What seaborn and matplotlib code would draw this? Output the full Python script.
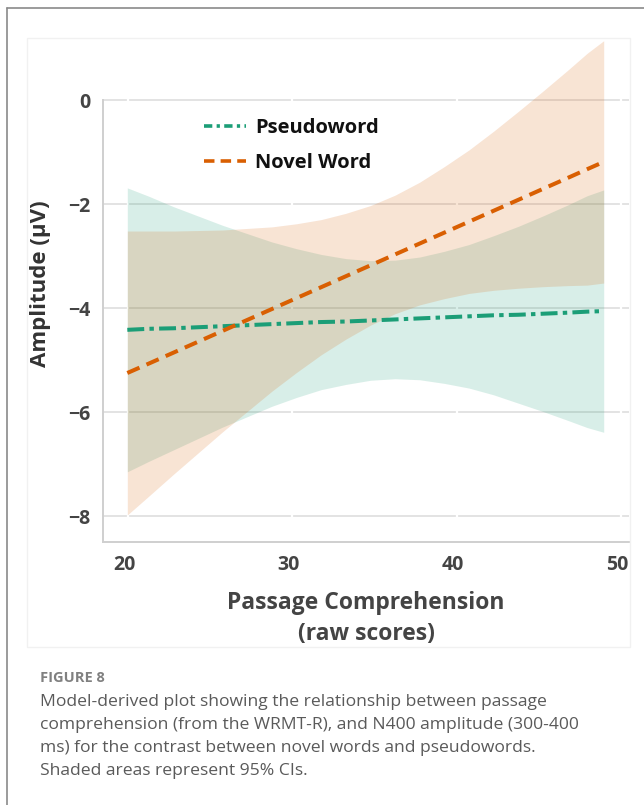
import matplotlib
matplotlib.use("Agg")
import matplotlib.pyplot as plt
import seaborn as sns
import pandas as pd
from matplotlib.lines import Line2D
from matplotlib.patches import Rectangle

# Model-derived estimates of N400 amplitude (µV) across passage comprehension scores
score = [20.2, 21.5, 23, 24.5, 26, 27.5, 29, 30.5, 32, 33.5, 35,
         36.5, 38, 39.5, 41, 42.5, 44, 45.5, 47, 48.2, 49.2]

pseudo_fit = [-4.42, -4.40, -4.39, -4.37, -4.35, -4.33, -4.31, -4.29, -4.27, -4.26, -4.24,
              -4.22, -4.20, -4.18, -4.16, -4.14, -4.13, -4.11, -4.09, -4.07, -4.06]
pseudo_lo = [-7.15, -6.95, -6.73, -6.51, -6.29, -6.09, -5.89, -5.72, -5.57, -5.47, -5.39,
             -5.36, -5.38, -5.45, -5.54, -5.67, -5.83, -5.99, -6.16, -6.30, -6.39]
pseudo_hi = [-1.69, -1.85, -2.05, -2.23, -2.41, -2.57, -2.73, -2.86, -2.97, -3.05, -3.09,
             -3.08, -3.02, -2.91, -2.78, -2.61, -2.43, -2.23, -2.02, -1.84, -1.73]

novel_fit = [-5.25, -5.07, -4.86, -4.65, -4.44, -4.23, -4.02, -3.81, -3.60, -3.39, -3.18,
             -2.97, -2.76, -2.55, -2.34, -2.13, -1.92, -1.71, -1.50, -1.33, -1.19]
novel_lo = [-7.98, -7.62, -7.20, -6.79, -6.38, -5.99, -5.60, -5.24, -4.90, -4.60, -4.33,
            -4.11, -3.94, -3.82, -3.72, -3.66, -3.62, -3.59, -3.57, -3.56, -3.52]
novel_hi = [-2.52, -2.52, -2.52, -2.51, -2.50, -2.47, -2.44, -2.38, -2.30, -2.18, -2.03,
            -1.83, -1.58, -1.28, -0.96, -0.60, -0.22, 0.17, 0.57, 0.90, 1.14]

conditions = ["Pseudoword", "Novel Word"]
palette = {"Pseudoword": "#1b9e77", "Novel Word": "#d95f02"}
line_dashes = {"Pseudoword": (4.2, 1.3, 1.1, 1.3), "Novel Word": (3.3, 1.9)}
legend_dashes = {"Pseudoword": (2.3, 1.2, 0.9, 1.2), "Novel Word": (2.9, 1.7)}

x_ticks = [20, 30, 40, 50]
y_ticks = [0, -2, -4, -6, -8]

x_label = "Passage Comprehension\n(raw scores)"
y_label = "Amplitude (μV)"
fig_tag = "FIGURE 8"
caption_lines = [
    "Model-derived plot showing the relationship between passage",
    "comprehension (from the WRMT-R), and N400 amplitude (300-400",
    "ms) for the contrast between novel words and pseudowords.",
    "Shaded areas represent 95% CIs.",
]

df = pd.concat([
    pd.DataFrame({"score": score, "fit": pseudo_fit, "lo": pseudo_lo, "hi": pseudo_hi,
                  "condition": "Pseudoword"}),
    pd.DataFrame({"score": score, "fit": novel_fit, "lo": novel_lo, "hi": novel_hi,
                  "condition": "Novel Word"}),
], ignore_index=True)

sns.set_theme(style="white")
plt.rcParams["font.family"] = ["Open Sans", "DejaVu Sans"]

W, H = 644, 805
fig = plt.figure(figsize=(W / 100, H / 100), dpi=100)
fig.patch.set_facecolor("white")

# outer frame and inner panel
fig.add_artist(Line2D([7 / W, 7 / W], [0, 1 - 8 / H], transform=fig.transFigure,
                      color="#8a8a8a", lw=1.2))
fig.add_artist(Line2D([7 / W, 1], [1 - 8 / H, 1 - 8 / H], transform=fig.transFigure,
                      color="#8a8a8a", lw=1.2))
fig.add_artist(Rectangle((27 / W, 1 - 647 / H), (630 - 27) / W, (647 - 38) / H,
                         transform=fig.transFigure, fill=False,
                         edgecolor="#f1f1f1", lw=1.0))

ax = fig.add_axes([103 / W, 1 - 542 / H, (629 - 103) / W, (542 - 37.6) / H])
ax.set_facecolor("none")
ax.set_xlim(18.72, 50.74)
ax.set_ylim(-8.5, 1.2)

for y in y_ticks:
    ax.axhline(y, color="#e3e3e3", lw=1.4, zorder=0.5)
for x in x_ticks:
    ax.axvline(x + 0.25, color="white", lw=1.6, zorder=0.6)

for cond in conditions:
    sub = df[df["condition"] == cond]
    ax.fill_between(sub["score"], sub["lo"], sub["hi"], color=palette[cond],
                    alpha=0.17, lw=0, zorder=1)

sns.lineplot(data=df, x="score", y="fit", hue="condition", style="condition",
             hue_order=conditions, style_order=conditions, palette=palette,
             dashes=line_dashes, linewidth=2.9, legend=False, ax=ax, zorder=3)

handles = [Line2D([], [], color=palette[c], lw=2.6, dashes=legend_dashes[c])
           for c in conditions]
leg = ax.legend(handles, conditions, loc="upper left",
                bbox_to_anchor=((204 - 103) / 526, 1 - (118 - 37.6) / 504.4),
                frameon=False, borderpad=0, borderaxespad=0, handlelength=2.1,
                handletextpad=0.45, labelspacing=0.75,
                prop={"size": 14.5, "weight": "bold"})
for t in leg.get_texts():
    t.set_color("#111111")

sns.despine(ax=ax)
for side in ["left", "bottom"]:
    ax.spines[side].set_color("#cfcfcf")
    ax.spines[side].set_linewidth(1.4)
ax.spines["left"].set_bounds(-8.5, 0)

ax.set_xticks(x_ticks)
ax.set_yticks(y_ticks)
ax.tick_params(axis="both", length=0, labelsize=14, labelcolor="#444444")
ax.tick_params(axis="x", pad=9)
ax.tick_params(axis="y", pad=9)
for lbl in ax.get_xticklabels() + ax.get_yticklabels():
    lbl.set_fontweight("bold")

ax.set_xlabel("")
ax.set_ylabel("")
fig.text(366 / W, 1 - 603 / H, x_label.split("\n")[0], ha="center", va="center",
         fontsize=16.5, fontweight="bold", color="#444444")
fig.text(366 / W, 1 - 634 / H, x_label.split("\n")[1], ha="center", va="center",
         fontsize=16.5, fontweight="bold", color="#444444")
fig.text(41 / W, 1 - 284 / H, y_label, ha="center", va="center", rotation=90,
         fontsize=16, fontweight="bold", color="#333333")

fig.text(40 / W, 1 - 678 / H, fig_tag, ha="left", va="center", fontsize=10.5,
         fontweight="bold", color="#808080")
for i, line in enumerate(caption_lines):
    fig.text(40 / W, 1 - (702 + 23 * i) / H, line, ha="left", va="center",
             fontsize=12.6, color="#5a5a5a")

fig.savefig("out.png", dpi=100, facecolor="white")
